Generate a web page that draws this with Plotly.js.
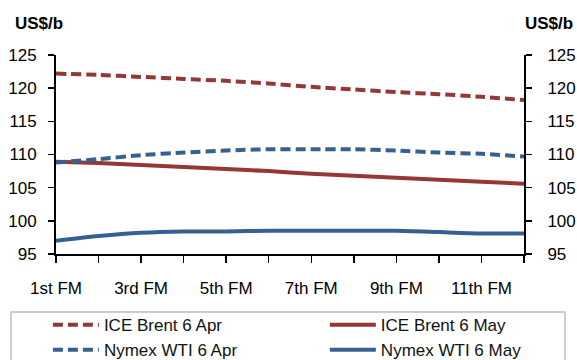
<!DOCTYPE html>
<html>
<head>
<meta charset="utf-8">
<script src="https://cdn.plot.ly/plotly-3.0.1.min.js"></script>
<style>html,body{margin:0;padding:0;background:#fff;}#chart{width:577px;height:360px;}</style>
</head>
<body>
<div id="chart"></div>
<script>
const months = ['1st FM','2nd FM','3rd FM','4th FM','5th FM','6th FM','7th FM','8th FM','9th FM','10th FM','11th FM','12th FM'];
const tickLabels = ['1st FM','','3rd FM','','5th FM','','7th FM','','9th FM','','11th FM',''];
const brentApr = [122.2,122.0,121.7,121.4,121.1,120.7,120.2,119.8,119.4,119.1,118.7,118.2];
const brentMay = [108.9,108.7,108.4,108.1,107.8,107.5,107.1,106.8,106.5,106.2,105.9,105.6];
const wtiApr   = [108.8,109.3,109.9,110.3,110.6,110.8,110.8,110.8,110.6,110.3,110.1,109.7];
const wtiMay   = [97.0,97.7,98.2,98.4,98.4,98.5,98.5,98.5,98.5,98.3,98.1,98.1];

const red = '#953735', blue = '#376092';
const font = {family: 'Liberation Sans, Arial, sans-serif', size: 17, color: '#000'};

function tr(name, y, color, dash, leg) {
  return {type:'scatter', mode:'lines', name, x: months, y, legend: leg,
    line:{color, width:4, dash, shape:'spline', smoothing:0.6}, hoverinfo:'skip'};
}
const data = [
  tr('ICE Brent 6 Apr', brentApr, red, '10px,5px', 'legend'),
  tr('ICE Brent 6 May', brentMay, red, 'solid', 'legend2'),
  tr('Nymex WTI 6 Apr', wtiApr, blue, '10px,5px', 'legend'),
  tr('Nymex WTI 6 May', wtiMay, blue, 'solid', 'legend2')
];
const yax = {range:[95,125], dtick:5, tick0:95, showgrid:false, zeroline:false,
  showline:true, linecolor:'#000', linewidth:2, ticks:'outside', ticklen:6, tickwidth:1.5,
  tickcolor:'#000', tickfont:font, fixedrange:true};
function leg(x) {
  return {orientation:'v', xref:'container', yref:'container', x, xanchor:'left', y:0.147, yanchor:'top',
    itemwidth:46, borderwidth:0, bgcolor:'rgba(0,0,0,0)', traceorder:'normal',
    font:{family:font.family, size:17, color:'#111'}, tracegroupgap:0,
    itemclick:false, itemdoubleclick:false};
}
const layout = {
  width:577, height:360,
  margin:{l:56, r:53, t:55, b:106, autoexpand:false},
  paper_bgcolor:'#fff', plot_bgcolor:'#fff',
  font: font,
  showlegend:true,
  legend: leg(0.083),
  legend2: leg(0.563),
  xaxis:{type:'category', range:[0,11], tickvals:months, ticktext:tickLabels,
    showgrid:false, zeroline:false, showline:true, linecolor:'#000', linewidth:2,
    ticks:'outside', ticklen:7, tickwidth:1.5, tickcolor:'#000', tickfont:font,
    ticklabelstandoff:11, fixedrange:true},
  yaxis: Object.assign({}, yax, {side:'left', ticklabelstandoff:8}),
  yaxis2: Object.assign({}, yax, {side:'right', overlaying:'y', matches:'y', ticklabelstandoff:12}),
  shapes:[{type:'rect', xref:'paper', yref:'paper', x0:-0.096, x1:1.0876, y0:-0.2915, y1:-0.6,
    line:{color:'#bfbfbf', width:1.5}, fillcolor:'rgba(0,0,0,0)', layer:'below'}],
  annotations:[
    {text:'<b>US$/b</b>', xref:'paper', yref:'paper', x:-0.092, y:1.16, xanchor:'left', yanchor:'middle', showarrow:false, font:{family:font.family, size:17, color:'#000'}},
    {text:'<b>US$/b</b>', xref:'paper', yref:'paper', x:1.0, y:1.16, xanchor:'left', yanchor:'middle', xshift:-1, showarrow:false, font:{family:font.family, size:17, color:'#000'}}
  ]
};
// invisible companion trace so the right axis is drawn from the same data
data.push({type:'scatter', mode:'lines', x: months, y: brentApr, yaxis:'y2', showlegend:false,
  line:{width:0}, opacity:0, hoverinfo:'skip'});
Plotly.newPlot('chart', data, layout, {staticPlot:true, displayModeBar:false});
</script>
</body>
</html>
